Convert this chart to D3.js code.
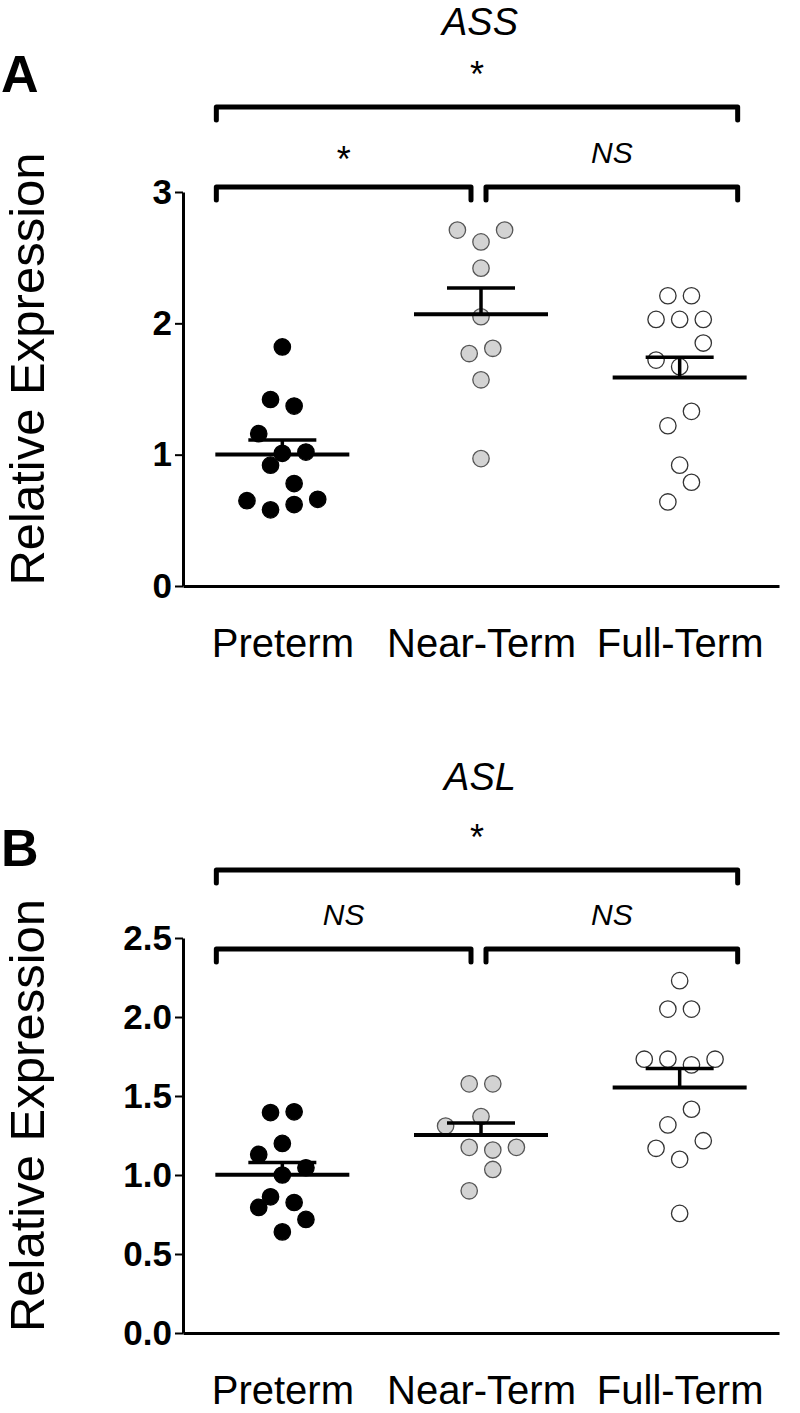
<!DOCTYPE html>
<html>
<head>
<meta charset="utf-8">
<script src="https://cdn.jsdelivr.net/npm/d3@7"></script>
<style>
  body { margin: 0; background: #fff; }
  svg { display: block; font-family: "Liberation Sans", Arial, sans-serif; }
</style>
</head>
<body>
<div id="chart"></div>
<script>
// groups on the x axis
const groups = ['Preterm', 'Near-Term', 'Full-Term'];

// panel A: ASS (slot = column offset in the scatter)
const assPreterm = [1.82, 1.42, 1.37, 1.16, 1.01, 1.02, 0.92, 0.78, 0.65, 0.66, 0.62, 0.58];
const assPretermSlot = [0, -1, 1, -2, 0, 2, -1, 1, -3, 3, 1, -1];
const assNearTerm = [2.71, 2.71, 2.62, 2.42, 2.05, 1.81, 1.77, 1.57, 0.97];
const assNearTermSlot = [-2, 2, 0, 0, 0, 1, -1, 0, 0];
const assFullTerm = [2.21, 2.21, 2.03, 2.03, 2.03, 1.85, 1.72, 1.67, 1.33, 1.22, 0.92, 0.79, 0.64];
const assFullTermSlot = [-1, 1, -2, 0, 2, 2, -2, 0, 1, -1, 0, 1, -1];
const assTicks = [0, 1, 2, 3];
const assTickLabels = ['0', '1', '2', '3'];
const assTests = [['Preterm', 'Full-Term', '*'], ['Preterm', 'Near-Term', '*'], ['Near-Term', 'Full-Term', 'NS']];

// panel B: ASL
const aslPreterm = [1.395, 1.40, 1.20, 1.13, 1.046, 1.00, 0.862, 0.826, 0.795, 0.719, 0.64];
const aslPretermSlot = [-1, 1, 0, -2, 2, 0, -1, 1, -2, 2, 0];
const aslNearTerm = [1.577, 1.577, 1.37, 1.31, 1.175, 1.158, 1.175, 1.035, 0.90];
const aslNearTermSlot = [-1, 1, 0, -3, -1, 1, 3, 1, -1];
const aslFullTerm = [2.23, 2.05, 2.05, 1.733, 1.733, 1.733, 1.697, 1.416, 1.317, 1.217, 1.169, 1.099, 0.757];
const aslFullTermSlot = [0, -1, 1, -3, -1, 3, 1, 1, -1, 2, -2, 0, 0];
const aslTicks = [0, 0.5, 1, 1.5, 2, 2.5];
const aslTickLabels = ['0.0', '0.5', '1.0', '1.5', '2.0', '2.5'];
const aslTests = [['Preterm', 'Full-Term', '*'], ['Preterm', 'Near-Term', 'NS'], ['Near-Term', 'Full-Term', 'NS']];

const dotStyle = {
  'Preterm': { fill: '#000', stroke: '#000' },
  'Near-Term': { fill: '#d3d3d3', stroke: '#555' },
  'Full-Term': { fill: '#fff', stroke: '#333' }
};

const svg = d3.select('#chart').append('svg')
  .attr('width', 800)
  .attr('height', 1413);

const x = d3.scalePoint().domain(groups).range([183, 779]).padding(0.5);
const slotX = d3.scaleLinear().domain([-1, 1]).range([-11.8, 11.8]);

function drawPanel(p) {
  const g = svg.append('g');
  const y = d3.scaleLinear().domain([0, p.ticks[p.ticks.length - 1]]).range([p.bottom, p.top]);

  // panel letter + gene title
  g.append('text').attr('x', 1).attr('y', p.letterY)
    .attr('font-size', 52).attr('font-weight', 'bold').text(p.letter);
  g.append('text').attr('x', 480).attr('y', p.titleY)
    .attr('text-anchor', 'middle').attr('font-size', 38).attr('font-style', 'italic').text(p.title);

  // y axis
  const yAxis = g.append('g').attr('transform', `translate(${x.range()[0]},0)`)
    .call(d3.axisLeft(y).tickValues(p.ticks).tickFormat((d, i) => p.tickLabels[i]).tickSize(8).tickSizeOuter(0).tickPadding(3));
  yAxis.select('.domain').attr('stroke-width', 3);
  yAxis.selectAll('.tick line').attr('stroke-width', 2);
  yAxis.selectAll('.tick text').attr('font-size', 35).attr('font-weight', 'bold')
    .attr('font-family', '"Liberation Sans", Arial, sans-serif').attr('fill', '#000');

  // x axis
  const xAxis = g.append('g').attr('transform', `translate(0,${p.bottom})`)
    .call(d3.axisBottom(x).tickSize(0).tickSizeOuter(0).tickPadding(43));
  xAxis.select('.domain').attr('stroke-width', 3);
  xAxis.selectAll('.tick text').attr('font-size', 40)
    .attr('font-family', '"Liberation Sans", Arial, sans-serif').attr('fill', '#000');

  // y title
  g.append('text')
    .attr('transform', `translate(44,${(p.top + p.bottom) / 2 - 20}) rotate(-90)`)
    .attr('text-anchor', 'middle').attr('font-size', 49).text('Relative Expression');

  // scatter
  groups.forEach(name => {
    const vals = p.values[name];
    const slots = p.slots[name];
    const st = dotStyle[name];
    g.append('g').selectAll('circle')
      .data(vals)
      .enter()
      .append('circle')
      .attr('cx', (d, i) => x(name) + slotX(slots[i]))
      .attr('cy', d => y(d))
      .attr('r', 8.2)
      .attr('fill', st.fill)
      .attr('stroke', st.stroke)
      .attr('stroke-width', 1.3);

    // mean and upper SEM
    const mean = d3.mean(vals);
    const sem = d3.deviation(vals) / Math.sqrt(vals.length);
    const cx = x(name);
    g.append('line').attr('x1', cx - 67).attr('x2', cx + 67)
      .attr('y1', y(mean)).attr('y2', y(mean)).attr('stroke', '#000').attr('stroke-width', 4);
    g.append('line').attr('x1', cx).attr('x2', cx)
      .attr('y1', y(mean)).attr('y2', y(mean + sem)).attr('stroke', '#000').attr('stroke-width', 3.5);
    g.append('line').attr('x1', cx - 34).attr('x2', cx + 34)
      .attr('y1', y(mean + sem)).attr('y2', y(mean + sem)).attr('stroke', '#000').attr('stroke-width', 3.5);
  });

  // significance brackets
  p.tests.forEach(([a, b, label]) => {
    const outer = a === groups[0] && b === groups[2];
    const by = outer ? p.outerY : p.innerY;
    const x1 = x(a) + (a === groups[0] ? -66 : 5);
    const x2 = x(b) + (b === groups[2] ? 58 : -10);
    g.append('path')
      .attr('d', `M${x1},${by + 13}V${by}H${x2}V${by + 13}`)
      .attr('fill', 'none').attr('stroke', '#000').attr('stroke-width', 5)
      .attr('stroke-linecap', 'round').attr('stroke-linejoin', 'round');
    const isStar = label === '*';
    g.append('text')
      .attr('x', (x1 + x2) / 2)
      .attr('y', isStar ? by - (outer ? 20 : 15) : by - 24)
      .attr('text-anchor', 'middle')
      .attr('font-size', isStar ? 36 : 30)
      .attr('font-style', isStar ? 'normal' : 'italic')
      .text(label);
  });
}

drawPanel({
  letter: 'A', letterY: 92, title: 'ASS', titleY: 35,
  top: 192, bottom: 586, outerY: 107, innerY: 187,
  ticks: assTicks, tickLabels: assTickLabels, tests: assTests,
  values: { 'Preterm': assPreterm, 'Near-Term': assNearTerm, 'Full-Term': assFullTerm },
  slots: { 'Preterm': assPretermSlot, 'Near-Term': assNearTermSlot, 'Full-Term': assFullTermSlot }
});

drawPanel({
  letter: 'B', letterY: 866, title: 'ASL', titleY: 790,
  top: 938, bottom: 1333, outerY: 870, innerY: 949,
  ticks: aslTicks, tickLabels: aslTickLabels, tests: aslTests,
  values: { 'Preterm': aslPreterm, 'Near-Term': aslNearTerm, 'Full-Term': aslFullTerm },
  slots: { 'Preterm': aslPretermSlot, 'Near-Term': aslNearTermSlot, 'Full-Term': aslFullTermSlot }
});
</script>
</body>
</html>
